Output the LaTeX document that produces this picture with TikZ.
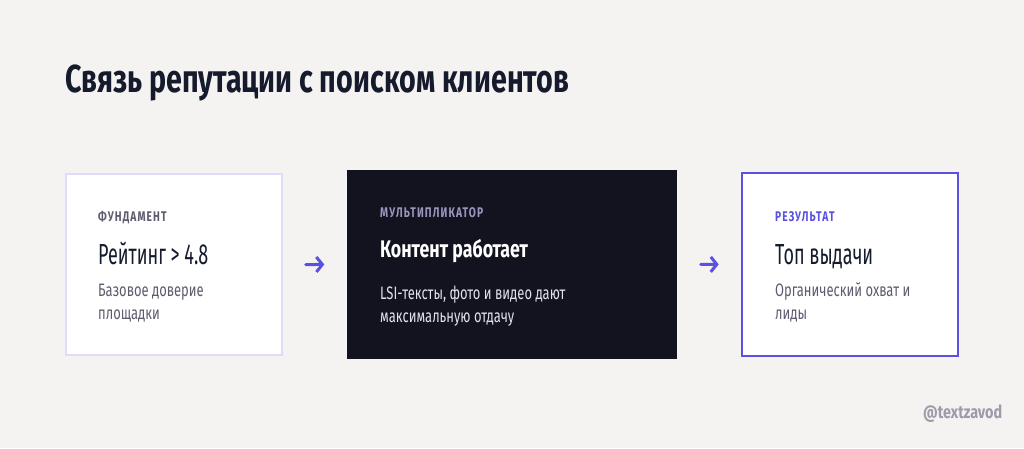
\documentclass[tikz,border=0pt]{standalone}
\usepackage{fontspec}
\usetikzlibrary{arrows.meta}
\setmainfont{Fira Sans}
\newfontfamily\titlefont{Fira Sans}[FakeStretch=0.735]
\newfontfamily\capfont{Fira Sans}[FakeStretch=0.73,LetterSpace=8]
\newfontfamily\headfont{Fira Sans}[FakeStretch=0.62]
\newfontfamily\strongfont{Fira Sans}[FakeStretch=0.74]
\newfontfamily\bodyfont{Fira Sans}[FakeStretch=0.72]
\newfontfamily\markfont{Fira Sans}[FakeStretch=0.80]
\definecolor{bgpaper}{HTML}{F4F3F1}
\definecolor{inkdark}{HTML}{151A2C}
\definecolor{paleline}{HTML}{DFDBFA}
\definecolor{nightbox}{HTML}{13131F}
\definecolor{violet}{HTML}{5A50E1}
\definecolor{graytext}{HTML}{5C5C6E}
\definecolor{lavtext}{HTML}{9996BE}
\definecolor{softwhite}{HTML}{E2E2EA}
\definecolor{marktext}{HTML}{9D9BAA}
\begin{document}
\begin{tikzpicture}
        [x=1pt,y=-1pt,
        card/.style={minimum width=216pt,minimum height=181pt,inner sep=0pt,fill=white,line width=2pt},
        tag/.style={anchor=base west,inner sep=0pt,font=\capfont\bfseries\fontsize{14}{16}\selectfont},
        head/.style={anchor=base west,inner sep=0pt,font=\headfont\fontsize{29}{32}\selectfont,text=inkdark},
        body/.style={anchor=base west,inner sep=0pt,align=left,font=\bodyfont\fontsize{18}{23}\selectfont,text=graytext},
        flow/.style={-{Straight Barb[length=6pt,width=15pt]},line width=3pt,line cap=round,line join=round,violet,shorten <=23pt,shorten >=22pt}]
        \fill [bgpaper] (0,0) rectangle (1024,448);
        \useasboundingbox (0,0) rectangle (1024,448);
        %Titel
        \node (title) [anchor=base west,inner sep=0pt,text=inkdark,font=\titlefont\bfseries\fontsize{39}{42}\selectfont] at (65,92) {Связь репутации с поиском клиентов};
        %Karten
        \node (fund) [card,draw=paleline] at (173.7,264.7) {};
        \node (mult) [card,fill=nightbox,minimum width=329.4pt,minimum height=189.3pt] at (512,264.3) {};
        \node (res) [card,draw=violet,minimum width=216.6pt,minimum height=182.4pt] at (850,264.5) {};
        %Pfeile
        \draw [flow] (fund.east) -- (mult.west);
        \draw [flow] (mult.east) -- (res.west);
        %Fundament
        \node (fundtag) [tag,text=graytext] at (98,221.7) {ФУНДАМЕНТ};
        \node (fundhead) [head] at (98,264) {Рейтинг > 4.8};
        \node (fundbody) [body] at (98,319) {Базовое доверие\\площадки};
        %Multiplikator
        \node (multtag) [tag,text=lavtext] at (380,217.7) {МУЛЬТИПЛИКАТОР};
        \node (multhead) [head,text=white,font=\strongfont\bfseries\fontsize{24}{28}\selectfont] at (380,257.7) {Контент работает};
        \node (multbody) [body,text=softwhite] at (380,322) {LSI-тексты, фото и видео дают\\максимальную отдачу};
        %Ergebnis
        \node (restag) [tag,text=violet] at (775,221.7) {РЕЗУЛЬТАТ};
        \node (reshead) [head] at (775,264) {Топ выдачи};
        \node (resbody) [body] at (775,319) {Органический охват и\\лиды};
        %Signatur
        \node (mark) [anchor=base west,inner sep=0pt,text=marktext,font=\markfont\bfseries\fontsize{18}{20}\selectfont] at (923,418) {@textzavod};
\end{tikzpicture}
\end{document}
